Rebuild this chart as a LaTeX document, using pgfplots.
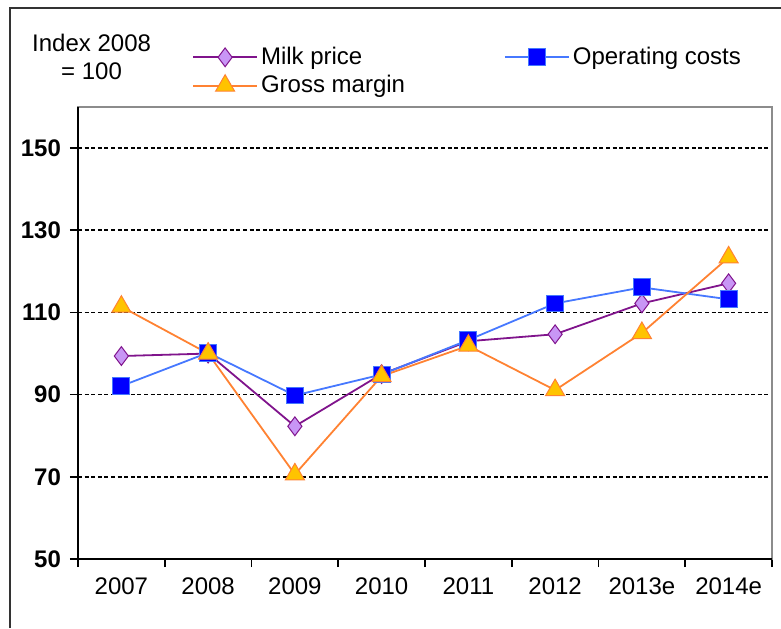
\documentclass[border=0pt]{standalone}
\usepackage{fontspec}
\setmainfont{Liberation Sans}
\usepackage{pgfplots}
\pgfplotsset{compat=1.18}

\definecolor{milkline}{RGB}{128,20,140}
\definecolor{milkfill}{RGB}{200,150,245}
\definecolor{opsline}{RGB}{70,120,255}
\definecolor{opsfill}{RGB}{0,0,255}
\definecolor{grossline}{RGB}{255,130,50}
\definecolor{grossfill}{RGB}{255,195,0}

\begin{document}
\begin{tikzpicture}
\useasboundingbox (0,0) rectangle (390.5pt,314pt);
% outer frame
\draw[line width=1pt, black!80] (5pt,0pt) -- (5pt,310pt) -- (390.5pt,310pt);
\node[align=center, font=\fontsize{12}{14}\selectfont] at (45.8pt,285.5pt) {Index 2008\\= 100};

\begin{axis}[
    at={(39pt,34.5pt)}, anchor=south west,
    scale only axis,
    width=347pt, height=226pt,
    xmin=-0.5, xmax=7.5,
    ymin=50, ymax=160,
    ytick={50,70,...,150},
    xtick={0,...,7},
    xticklabels={2007,2008,2009,2010,2011,2012,2013e,2014e},
    minor xtick={-0.5,0.5,...,7.5},
    xtick pos=bottom, ytick pos=left,
    tick align=outside,
    major tick length=4pt,
    minor tick length=4pt,
    major x tick style={draw=none},
    minor x tick style={black, line width=0.8pt},
    y tick style={black, line width=0.8pt},
    ymajorgrids=true,
    major grid style={black, line width=0.85pt, dash pattern=on 2pt off 1.3pt},
    axis line style={black!45, line width=0.6pt},
    /pgf/number format/assume math mode=true,
    ticklabel style={font=\fontsize{12}{14}\selectfont},
    yticklabel style={font=\bfseries\fontsize{12}{14}\selectfont, xshift=-1pt},
    xticklabel style={yshift=-2pt},
    legend columns=2,
    legend cell align=left,
    legend style={draw=none, fill=none, at={(axis description cs:0.164,1.14)}, anchor=north west,
        font=\fontsize{12}{14}\selectfont, inner sep=0pt, row sep=1pt,
        nodes={inner sep=1.5pt}},
    /tikz/every even column/.append style={column sep=48pt},
    legend image code/.code={
        \draw[mark repeat=2, mark phase=2, #1] plot coordinates {(0pt,0pt) (16pt,0pt) (32pt,0pt)};
    },
    clip=false,
]
\draw[black, line width=1pt] (rel axis cs:0,1) -- (rel axis cs:0,0) -- (rel axis cs:1,0);

\addplot[milkline, line width=0.9pt, mark=diamond*, mark size=4.7pt,
    mark options={fill=milkfill, draw=milkline, line width=0.5pt}]
coordinates {(0,99.4) (1,100) (2,82.3) (3,95) (4,103) (5,104.7) (6,112.2) (7,117.1)};
\addlegendentry{Milk price}

\addplot[opsline, line width=0.9pt, mark=square*, mark size=4.2pt,
    mark options={fill=opsfill, draw=opsline, line width=0.5pt}]
coordinates {(0,92.1) (1,100.2) (2,89.8) (3,94.9) (4,103.3) (5,112.2) (6,116.1) (7,113.2)};
\addlegendentry{Operating costs}

\addplot[grossline, line width=0.9pt, mark=triangle*, mark size=5.5pt,
    mark options={fill=grossfill, draw=grossline, line width=0.5pt}]
coordinates {(0,111.4) (1,100) (2,70.6) (3,94.5) (4,101.9) (5,91.1) (6,105) (7,123.4)};
\addlegendentry{Gross margin}
\end{axis}
\end{tikzpicture}
\end{document}
